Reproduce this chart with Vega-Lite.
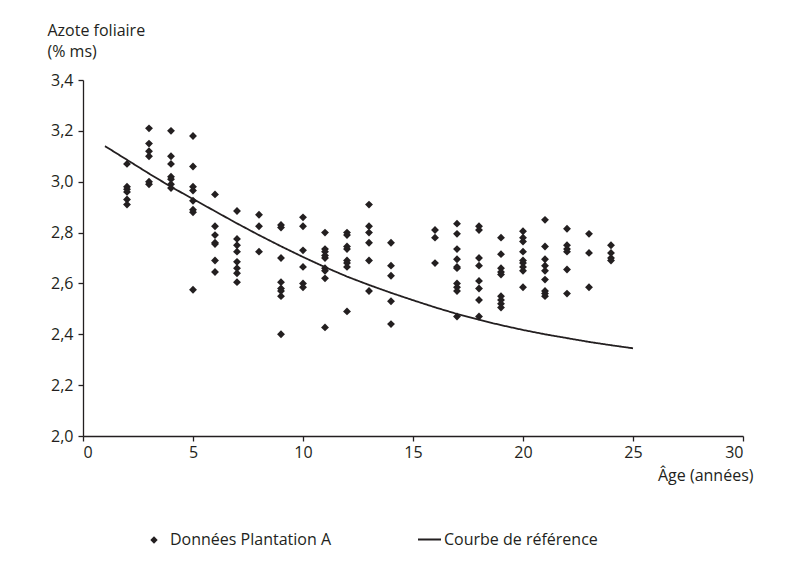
{
  "$schema": "https://vega.github.io/schema/vega-lite/v6.json",
  "width": 660,
  "height": 356,
  "autosize": {"type": "none"},
  "padding": {"left": 83, "top": 80, "right": 53, "bottom": 137},
  "background": "white",
  "config": {
    "view": {"stroke": null},
    "font": "Open Sans",
    "axis": {
      "grid": false,
      "domainColor": "#231f20",
      "domainWidth": 1.3,
      "tickColor": "#231f20",
      "tickWidth": 1.3,
      "tickSize": 5,
      "labelColor": "#231f20",
      "labelFontSize": 16,
      "titleColor": "#231f20",
      "titleFontSize": 16,
      "titleFontWeight": "normal"
    },
    "legend": {
      "labelColor": "#231f20",
      "labelFontSize": 16,
      "labelLimit": 400,
      "padding": 0
    }
  },
  "datasets": {
    "points": [
      {"age": 2, "azote": 3.07}, {"age": 2, "azote": 2.98}, {"age": 2, "azote": 2.97}, {"age": 2, "azote": 2.96}, {"age": 2, "azote": 2.93}, {"age": 2, "azote": 2.91},
      {"age": 3, "azote": 3.21}, {"age": 3, "azote": 3.15}, {"age": 3, "azote": 3.12}, {"age": 3, "azote": 3.1}, {"age": 3, "azote": 3.0}, {"age": 3, "azote": 2.99},
      {"age": 4, "azote": 3.2}, {"age": 4, "azote": 3.1}, {"age": 4, "azote": 3.07}, {"age": 4, "azote": 3.02}, {"age": 4, "azote": 3.01}, {"age": 4, "azote": 2.99}, {"age": 4, "azote": 2.975},
      {"age": 5, "azote": 3.18}, {"age": 5, "azote": 3.06}, {"age": 5, "azote": 2.98}, {"age": 5, "azote": 2.965}, {"age": 5, "azote": 2.925}, {"age": 5, "azote": 2.89}, {"age": 5, "azote": 2.88}, {"age": 5, "azote": 2.575},
      {"age": 6, "azote": 2.95}, {"age": 6, "azote": 2.825}, {"age": 6, "azote": 2.79}, {"age": 6, "azote": 2.76}, {"age": 6, "azote": 2.755}, {"age": 6, "azote": 2.69}, {"age": 6, "azote": 2.645},
      {"age": 7, "azote": 2.885}, {"age": 7, "azote": 2.775}, {"age": 7, "azote": 2.75}, {"age": 7, "azote": 2.725}, {"age": 7, "azote": 2.685}, {"age": 7, "azote": 2.66}, {"age": 7, "azote": 2.64}, {"age": 7, "azote": 2.605},
      {"age": 8, "azote": 2.87}, {"age": 8, "azote": 2.825}, {"age": 8, "azote": 2.725},
      {"age": 9, "azote": 2.83}, {"age": 9, "azote": 2.82}, {"age": 9, "azote": 2.7}, {"age": 9, "azote": 2.605}, {"age": 9, "azote": 2.58}, {"age": 9, "azote": 2.57}, {"age": 9, "azote": 2.55}, {"age": 9, "azote": 2.4},
      {"age": 10, "azote": 2.86}, {"age": 10, "azote": 2.825}, {"age": 10, "azote": 2.73}, {"age": 10, "azote": 2.665}, {"age": 10, "azote": 2.6}, {"age": 10, "azote": 2.585},
      {"age": 11, "azote": 2.8}, {"age": 11, "azote": 2.735}, {"age": 11, "azote": 2.725}, {"age": 11, "azote": 2.71}, {"age": 11, "azote": 2.7}, {"age": 11, "azote": 2.66}, {"age": 11, "azote": 2.65}, {"age": 11, "azote": 2.62}, {"age": 11, "azote": 2.427},
      {"age": 12, "azote": 2.8}, {"age": 12, "azote": 2.79}, {"age": 12, "azote": 2.745}, {"age": 12, "azote": 2.735}, {"age": 12, "azote": 2.69}, {"age": 12, "azote": 2.68}, {"age": 12, "azote": 2.665}, {"age": 12, "azote": 2.49},
      {"age": 13, "azote": 2.91}, {"age": 13, "azote": 2.825}, {"age": 13, "azote": 2.8}, {"age": 13, "azote": 2.76}, {"age": 13, "azote": 2.69}, {"age": 13, "azote": 2.57},
      {"age": 14, "azote": 2.76}, {"age": 14, "azote": 2.67}, {"age": 14, "azote": 2.63}, {"age": 14, "azote": 2.53}, {"age": 14, "azote": 2.44},
      {"age": 16, "azote": 2.81}, {"age": 16, "azote": 2.78}, {"age": 16, "azote": 2.68},
      {"age": 17, "azote": 2.835}, {"age": 17, "azote": 2.795}, {"age": 17, "azote": 2.735}, {"age": 17, "azote": 2.695}, {"age": 17, "azote": 2.665}, {"age": 17, "azote": 2.66}, {"age": 17, "azote": 2.6}, {"age": 17, "azote": 2.585}, {"age": 17, "azote": 2.57}, {"age": 17, "azote": 2.47},
      {"age": 18, "azote": 2.825}, {"age": 18, "azote": 2.81}, {"age": 18, "azote": 2.7}, {"age": 18, "azote": 2.67}, {"age": 18, "azote": 2.61}, {"age": 18, "azote": 2.58}, {"age": 18, "azote": 2.535}, {"age": 18, "azote": 2.47},
      {"age": 19, "azote": 2.78}, {"age": 19, "azote": 2.715}, {"age": 19, "azote": 2.66}, {"age": 19, "azote": 2.645}, {"age": 19, "azote": 2.635}, {"age": 19, "azote": 2.55}, {"age": 19, "azote": 2.535}, {"age": 19, "azote": 2.52}, {"age": 19, "azote": 2.505},
      {"age": 20, "azote": 2.805}, {"age": 20, "azote": 2.78}, {"age": 20, "azote": 2.765}, {"age": 20, "azote": 2.725}, {"age": 20, "azote": 2.69}, {"age": 20, "azote": 2.68}, {"age": 20, "azote": 2.665}, {"age": 20, "azote": 2.65}, {"age": 20, "azote": 2.585},
      {"age": 21, "azote": 2.85}, {"age": 21, "azote": 2.745}, {"age": 21, "azote": 2.695}, {"age": 21, "azote": 2.67}, {"age": 21, "azote": 2.65}, {"age": 21, "azote": 2.615}, {"age": 21, "azote": 2.57}, {"age": 21, "azote": 2.56}, {"age": 21, "azote": 2.55},
      {"age": 22, "azote": 2.815}, {"age": 22, "azote": 2.75}, {"age": 22, "azote": 2.735}, {"age": 22, "azote": 2.725}, {"age": 22, "azote": 2.655}, {"age": 22, "azote": 2.56},
      {"age": 23, "azote": 2.795}, {"age": 23, "azote": 2.72}, {"age": 23, "azote": 2.585},
      {"age": 24, "azote": 2.75}, {"age": 24, "azote": 2.72}, {"age": 24, "azote": 2.7}, {"age": 24, "azote": 2.69}
    ],
    "courbe": [
      {"age": 1, "azote": 3.14}, {"age": 2, "azote": 3.086}, {"age": 3, "azote": 3.032}, {"age": 4, "azote": 2.98},
      {"age": 5, "azote": 2.932}, {"age": 6, "azote": 2.884}, {"age": 7, "azote": 2.836}, {"age": 8, "azote": 2.79},
      {"age": 9, "azote": 2.746}, {"age": 10, "azote": 2.704}, {"age": 11, "azote": 2.664}, {"age": 12, "azote": 2.627},
      {"age": 13, "azote": 2.594}, {"age": 14, "azote": 2.563}, {"age": 15, "azote": 2.534}, {"age": 16, "azote": 2.506},
      {"age": 17, "azote": 2.48}, {"age": 18, "azote": 2.457}, {"age": 19, "azote": 2.436}, {"age": 20, "azote": 2.417},
      {"age": 21, "azote": 2.4}, {"age": 22, "azote": 2.385}, {"age": 23, "azote": 2.37}, {"age": 24, "azote": 2.357},
      {"age": 25, "azote": 2.345}
    ]
  },
  "encoding": {
    "x": {
      "field": "age",
      "type": "quantitative",
      "scale": {"domain": [0, 30], "nice": false, "zero": false},
      "axis": {
        "title": "Âge (années)",
        "values": [0, 5, 10, 15, 20, 25, 30],
        "labelPadding": 3,
        "titleX": 670,
        "titleY": 44,
        "titleAlign": "right",
        "titleAnchor": "end",
        "titleBaseline": "alphabetic"
      }
    },
    "y": {
      "field": "azote",
      "type": "quantitative",
      "scale": {"domain": [2, 3.4], "nice": false, "zero": false},
      "axis": {
        "title": ["Azote foliaire", "(% ms)"],
        "values": [2, 2.2, 2.4, 2.6, 2.8, 3.0, 3.2, 3.4],
        "labelExpr": "replace(format(datum.value, '.1f'), '.', ',')",
        "labelPadding": 5,
        "titleX": -36,
        "titleY": -45,
        "titleAngle": 0,
        "titleAlign": "left",
        "titleAnchor": "start",
        "titleBaseline": "alphabetic",
        "titleLineHeight": 21
      }
    }
  },
  "layer": [
    {
      "data": {"name": "points"},
      "mark": {"type": "point", "filled": true, "size": 62, "color": "#231f20", "opacity": 1},
      "encoding": {
        "shape": {
          "datum": "Données Plantation A",
          "type": "nominal",
          "scale": {"range": ["diamond"]},
          "legend": {
            "title": null,
            "orient": "none",
            "legendX": 63,
            "legendY": 452,
            "symbolFillColor": "#231f20",
            "symbolStrokeColor": "#231f20",
            "symbolSize": 55,
            "symbolType": "diamond",
            "labelOffset": 8
          }
        }
      }
    },
    {
      "data": {"name": "courbe"},
      "mark": {"type": "line", "color": "#231f20", "strokeWidth": 1.8},
      "encoding": {
        "strokeDash": {
          "datum": "Courbe de référence",
          "type": "nominal",
          "scale": {"range": [[1, 0]]},
          "legend": {
            "title": null,
            "orient": "none",
            "legendX": 334,
            "legendY": 447,
            "symbolStrokeColor": "#231f20",
            "symbolStrokeWidth": 1.8,
            "symbolSize": 529,
            "labelOffset": 2
          }
        }
      }
    }
  ]
}
